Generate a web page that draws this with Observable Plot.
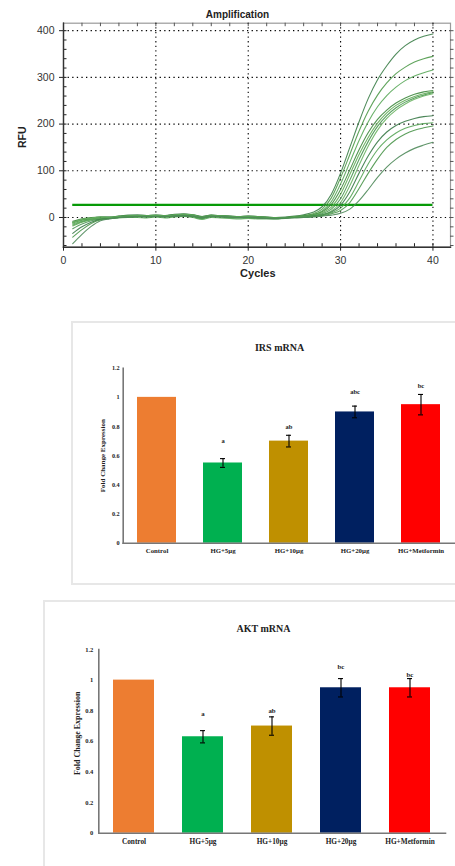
<!DOCTYPE html>
<html>
<head>
<meta charset="utf-8">
<script src="https://cdn.jsdelivr.net/npm/d3@7"></script>
<script src="https://cdn.jsdelivr.net/npm/@observablehq/plot@0.6"></script>
<style>
  html, body { margin: 0; padding: 0; background: #fff; }
  body { width: 455px; height: 866px; overflow: hidden; position: relative; }
  .panel { position: absolute; left: 0; }
  .box { position: absolute; border: 2px solid #e7e7e7; box-sizing: border-box; }
  .amp text { font-family: "Liberation Sans", Arial, sans-serif; }
  .bars text { font-family: "Liberation Serif", "Times New Roman", serif; font-weight: 700; }
</style>
</head>
<body>
<div class="box" style="left:71px; top:321px; width:420px; height:264px;"></div>
<div class="box" style="left:43px; top:600px; width:440px; height:300px;"></div>
<div id="amp" class="panel" style="top:0px;"></div>
<div id="irs" class="panel" style="top:321px;"></div>
<div id="akt" class="panel" style="top:600px;"></div>
<script>
// ---------------- Amplification data ----------------
const cycles = [1,2,3,4,5,6,7,8,9,10,11,12,13,14,15,16,17,18,19,20,21,22,23,24,25,26,27,28,29,30,31,32,33,34,35,36,37,38,39,40];
const curve1  = [-10,-5,-1,1,1,3,5,6,4,5,4,7,8,6,2,5,4,3,2,3,2,1,0,1,3,6,11,23,50,95,150,205,255,295,325,350,368,380,388,393];
const curve2  = [-12,-6,-3,-1,-1,1,2,4,2,3,2,4,5,3,-1,3,2,1,0,1,0,-1,-1,0,2,4,8,18,42,85,135,185,228,262,288,308,322,333,340,345];
const curve3  = [-14,-8,-4,-3,-2,-1,0,0,-1,1,-1,1,2,0,-4,0,-1,-2,-3,-2,-3,-3,-3,-2,1,3,6,14,34,72,118,165,205,237,261,279,293,303,310,316];
const curve4  = [-8,-3,0,1,1,3,4,4,4,5,4,6,7,6,2,5,4,3,2,3,2,1,0,0,1,3,6,12,28,60,102,145,182,210,230,245,256,264,269,272];
const curve5  = [-18,-10,-5,-2,-1,1,1,2,2,2,2,3,4,2,-2,2,2,1,0,0,-1,-1,-2,-1,1,2,5,10,22,50,92,135,172,202,224,240,251,259,265,269];
const curve6  = [-24,-14,-7,-3,-2,0,2,2,1,2,1,3,4,2,-2,2,1,0,-1,0,-1,-2,-3,-1,0,2,4,8,18,40,80,124,163,195,218,235,247,256,262,267];
const curve7  = [-11,-4,-1,1,0,2,3,4,3,4,3,5,7,5,1,4,3,2,1,2,1,0,-1,0,0,1,3,6,14,32,68,112,153,187,212,230,243,253,260,265];
const curve8  = [-34,-20,-10,-4,-2,0,1,2,2,2,2,3,4,3,0,3,2,1,0,1,0,-1,-2,-1,0,1,3,6,12,26,55,95,132,162,183,197,206,212,216,218];
const curve9  = [-16,-9,-4,-1,0,2,3,4,3,4,3,5,6,4,0,3,3,2,1,2,1,0,-1,0,0,1,2,5,10,20,42,78,115,145,166,181,191,197,201,203];
const curve10 = [-42,-26,-13,-5,-2,0,1,2,1,2,1,3,4,2,-1,2,1,0,0,0,-1,-1,-2,-1,0,0,2,4,8,15,32,62,95,125,150,167,179,187,192,196];
const curve11 = [-56,-36,-19,-7,-3,0,1,2,2,2,2,3,4,3,0,2,2,1,0,0,-1,-2,-2,-1,-1,0,1,3,5,9,18,36,60,86,108,125,138,148,155,161];
const curveNames = ["A","B","C","D","E","F","G","H","I","J","K"];
const curveList = [curve1,curve2,curve3,curve4,curve5,curve6,curve7,curve8,curve9,curve10,curve11];
const threshold = 27;
const xTickLabels = [0,10,20,30,40];
const yTickLabels = [0,100,200,300,400];
const xDomain = [0, 41.9];
const yDomain = [-63.6, 416];

const ampRows = [];
curveList.forEach((arr, k) => arr.forEach((v, i) => ampRows.push({series: curveNames[k], cycle: cycles[i], rfu: v})));

const greens = ["#3d7f4a","#4f9a4a","#5aa85a","#3f8a3f","#62ad55","#4a9652","#6ab462","#3a7a48","#58a558","#4b964b","#4f8a5a"];

const AW = 455, AH = 290, AML = 63, AMR = 5, AMT = 22.7, AMB = 43.3;
const frameW = AW - AML - AMR, frameH = AH - AMT - AMB;
const xMinor = d3.range(0, 41, 2);
const yMinor = d3.range(-60, 401, 20);

const amp = Plot.plot({
  width: AW, height: AH,
  marginLeft: AML, marginRight: AMR, marginTop: AMT, marginBottom: AMB,
  className: "amp",
  style: {background: "transparent", overflow: "visible", fontFamily: "Liberation Sans, Arial, sans-serif"},
  x: {domain: xDomain, axis: null},
  y: {domain: yDomain, axis: null},
  color: {domain: curveNames, range: greens},
  marks: [
    Plot.frame({stroke: "#9a9a9a", strokeWidth: 1.2}),
    Plot.ruleX(xTickLabels.slice(1), {stroke: "#000", strokeDasharray: "1.3,3.3", strokeWidth: 1.1}),
    Plot.ruleY(yTickLabels, {stroke: "#000", strokeDasharray: "1.3,3.3", strokeWidth: 1.1}),
    Plot.tickX(xMinor, {x: d => d, insetTop: frameH - 3.5, stroke: "#222"}),
    Plot.tickX(xMinor, {x: d => d, insetBottom: frameH - 3.5, stroke: "#555"}),
    Plot.tickY(yMinor, {y: d => d, insetRight: frameW - 3.5, stroke: "#222"}),
    Plot.tickY(yMinor, {y: d => d, insetLeft: frameW, insetRight: -3.5, stroke: "#555"}),
    Plot.frame({anchor: "left", stroke: "#333", strokeWidth: 1.4}),
    Plot.frame({anchor: "bottom", stroke: "#333", strokeWidth: 1.4}),
    Plot.ruleY([threshold], {x1: 1, x2: 40, stroke: "#079a07", strokeWidth: 2.2}),
    Plot.line(ampRows, {x: "cycle", y: "rfu", z: "series", stroke: "series", strokeWidth: 1.1, strokeOpacity: 0.9, curve: "monotone-x"}),
    Plot.axisX(xTickLabels, {label: null, tickSize: 4, tickPadding: 5.5, fontSize: 10.5, color: "#222", fill: "#333"}),
    Plot.axisY(yTickLabels, {label: null, tickSize: 4, tickPadding: 5, fontSize: 10.5, color: "#222", fill: "#333"}),
    Plot.text(["Amplification"], {frameAnchor: "top", dx: -19.5, dy: -12.7, fontSize: 10, fontWeight: "bold", fill: "#222"}),
    Plot.text(["RFU"], {frameAnchor: "left", textAnchor: "middle", dx: -41.3, dy: 2, rotate: -90, fontSize: 10.5, fontWeight: "bold", fill: "#222"}),
    Plot.text(["Cycles"], {frameAnchor: "bottom", dx: 0.8, dy: 30, fontSize: 11, fontWeight: "bold", fill: "#222"})
  ]
});
document.getElementById("amp").append(amp);

// ---------------- Bar chart data ----------------
const categories = ["Control", "HG+5µg", "HG+10µg", "HG+20µg", "HG+Metformin"];
const barColors = ["#ED7D31", "#00B050", "#BF9000", "#002060", "#FF0000"];
const barTickLabels = [0, 0.2, 0.4, 0.6, 0.8, 1, 1.2];

const irsValues  = [1.00, 0.55, 0.70, 0.90, 0.95];
const irsErrors  = [0, 0.03, 0.04, 0.04, 0.07];
const irsLetters = ["", "a", "ab", "abc", "bc"];
const irsLetterY = [null, 0.70, 0.80, 1.035, 1.08];

const aktValues  = [1.00, 0.63, 0.70, 0.95, 0.95];
const aktErrors  = [0, 0.04, 0.06, 0.06, 0.06];
const aktLetters = ["", "a", "ab", "bc", "bc"];
const aktLetterY = [null, 0.78, 0.80, 1.085, 1.037];

const PI = 0.41, PO = 0.205;

function barChart(values, errors, letters, letterY, title, g) {
  const rows = categories.map((c, i) => ({cat: c, v: values[i], e: errors[i], lo: values[i] - errors[i], hi: values[i] + errors[i], letter: letters[i], ly: letterY[i]}));
  const withErr = rows.filter(d => d.e > 0);
  const withLetter = rows.filter(d => d.letter);
  return Plot.plot({
    width: 455, height: g.h,
    marginLeft: g.ml, marginRight: g.mr, marginTop: g.mt, marginBottom: g.mb,
    className: "bars",
    style: {background: "transparent", overflow: "visible", fontFamily: "Liberation Serif, Times New Roman, serif"},
    x: {domain: categories, paddingInner: PI, paddingOuter: PO, axis: null},
    y: {domain: [0, 1.2], axis: null},
    color: {domain: categories, range: barColors},
    marks: [
      Plot.barY(rows, {x: "cat", y: "v", fill: "cat"}),
      Plot.ruleX(withErr, {x: "cat", y1: "lo", y2: "hi", stroke: "#000", strokeWidth: 1.1}),
      Plot.tickY(withErr, {x: "cat", y: "lo", insetLeft: g.cap, insetRight: g.cap, stroke: "#000", strokeWidth: 1.1}),
      Plot.tickY(withErr, {x: "cat", y: "hi", insetLeft: g.cap, insetRight: g.cap, stroke: "#000", strokeWidth: 1.1}),
      Plot.text(withLetter, {x: "cat", y: "ly", text: "letter", fontSize: g.lf, fill: "#222"}),
      Plot.frame({anchor: "bottom", stroke: "#777", strokeWidth: 1.6}),
      Plot.frame({anchor: "left", stroke: "#777", strokeWidth: 1.6}),
      Plot.axisY(barTickLabels, {label: null, tickSize: 0, tickPadding: g.yp, tickFormat: d => String(d), fontSize: g.tf, fill: "#222"}),
      Plot.axisX({label: null, tickSize: 0, tickPadding: g.xp, fontSize: g.xf, fill: "#222"}),
      Plot.text([title], {frameAnchor: "top", dx: g.tdx, dy: g.tdy, fontSize: 10, fill: "#222"}),
      Plot.text(["Fold Change Expression"], {frameAnchor: "left", textAnchor: "middle", rotate: -90, dx: g.ldx, dy: g.ldy, fontSize: g.lbf, fill: "#222"})
    ]
  });
}

document.getElementById("irs").append(barChart(irsValues, irsErrors, irsLetters, irsLetterY, "IRS mRNA",
  {h: 264, ml: 122.7, mr: 0.6, mt: 46.7, mb: 42.3, cap: 17, lf: 6.5, tf: 6.2, yp: 3.5, xp: 4.8, xf: 6.8, tdx: -9.5, tdy: -24.4, ldx: -20, ldy: 0, lbf: 7}));
document.getElementById("akt").append(barChart(aktValues, aktErrors, aktLetters, aktLetterY, "AKT mRNA",
  {h: 266, ml: 98.3, mr: 10, mt: 49, mb: 33.3, cap: 18, lf: 6.8, tf: 6.5, yp: 5.5, xp: 5.3, xf: 7.3, tdx: -8.7, tdy: -25, ldx: -21.6, ldy: -8, lbf: 8}));
</script>
</body>
</html>
